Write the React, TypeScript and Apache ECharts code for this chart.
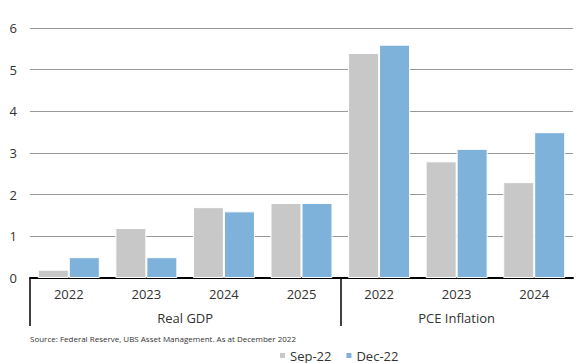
import React, { useEffect, useRef } from "react";
import * as echarts from "echarts";

const years = ["2022", "2023", "2024", "2025", "2022", "2023", "2024"];
const groups = ["Real GDP", "PCE Inflation"];
const groupCenters = [2, 5.5];
const groupBounds = [0, 4];
const sep22 = [0.2, 1.2, 1.7, 1.8, 5.4, 2.8, 2.3];
const dec22 = [0.5, 0.5, 1.6, 1.8, 5.6, 3.1, 3.5];
const yTicks = [0, 1, 2, 3, 4, 5, 6];
const source = "Source: Federal Reserve, UBS Asset Management. As at December 2022";

const FONT = "Open Sans";

export default function App() {
  const ref = useRef<HTMLDivElement>(null);
  useEffect(() => {
    if (!ref.current) return;
    const chart = echarts.init(ref.current, null, { renderer: "svg" });
    chart.setOption({
      animation: false,
      textStyle: { fontFamily: FONT },
      grid: { left: 30, right: 7, top: 28, bottom: 85 },
      legend: {
        left: 273,
        top: 344,
        itemWidth: 7,
        itemHeight: 7,
        itemGap: 13,
        icon: "rect",
        textStyle: { fontSize: 13, color: "#333", fontFamily: FONT, padding: [0, 0, 0, -1] },
        data: ["Sep-22", "Dec-22"],
      },
      graphic: [
        {
          type: "text",
          left: 30,
          top: 334,
          style: { text: source, fontSize: 8, fill: "#333", fontFamily: FONT },
        },
      ],
      xAxis: [
        {
          type: "category",
          data: years,
          axisLine: { lineStyle: { color: "#000", width: 2 } },
          axisTick: { show: false },
          axisLabel: { fontSize: 13, color: "#333", margin: 9 },
        },
        {
          type: "value",
          min: 0,
          max: 7,
          position: "bottom",
          axisLine: { show: false },
          splitLine: { show: false },
          axisTick: {
            show: true,
            customValues: groupBounds,
            length: 48,
            lineStyle: { color: "#000", width: 1.5 },
          },
          axisLabel: {
            customValues: groupCenters,
            fontSize: 13,
            color: "#333",
            margin: 33,
            formatter: (v: number) => groups[groupCenters.indexOf(v)] ?? "",
          },
        },
      ],
      yAxis: {
        type: "value",
        min: yTicks[0],
        max: yTicks[yTicks.length - 1],
        interval: 1,
        axisLine: { show: false },
        axisTick: { show: false },
        axisLabel: { fontSize: 13, color: "#333", margin: 13 },
        splitLine: { lineStyle: { color: "#999", width: 1 } },
      },
      series: [
        {
          name: "Sep-22",
          type: "bar",
          xAxisIndex: 0,
          data: sep22,
          barWidth: 31,
          barGap: "0%",
          itemStyle: { color: "#c8c8c8", borderColor: "#fff", borderWidth: 1 },
        },
        {
          name: "Dec-22",
          type: "bar",
          xAxisIndex: 0,
          data: dec22,
          barWidth: 31,
          barGap: "0%",
          itemStyle: { color: "#7fb2da", borderColor: "#fff", borderWidth: 1 },
        },
      ],
    });
    return () => chart.dispose();
  }, []);
  return <div ref={ref} style={{ width: 580, height: 363, position: "absolute", left: 0, top: 0 }} />;
}
